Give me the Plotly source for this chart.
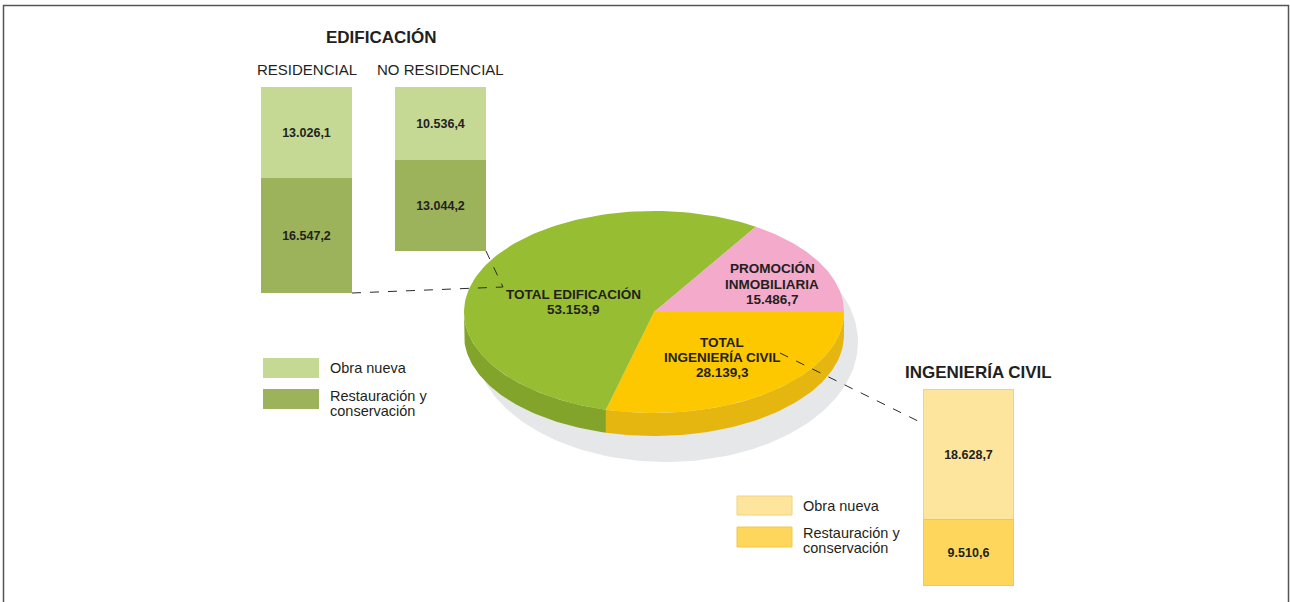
import numpy as np
import plotly.graph_objects as go

# values in the chart
pie_labels = ['TOTAL<br>INGENIERÍA CIVIL', 'TOTAL EDIFICACIÓN', 'PROMOCIÓN<br>INMOBILIARIA']
pie_values = [28139.3, 53153.9, 15486.7]

edif_cats = ['RESIDENCIAL', 'NO RESIDENCIAL']
edif_nueva = [13026.1, 10536.4]
edif_restaur = [16547.2, 13044.2]

civil_nueva = [18628.7]
civil_restaur = [9510.6]

FONT = 'Liberation Sans, Arial, sans-serif'
DARK = '#231f20'


def es(v):
    return f'{v:,.1f}'.replace(',', 'X').replace('.', ',').replace('X', '.')


# pie geometry (pixels)
cx, cy, rx, ry, depth = 654, 312, 190, 101, 23
top_colors = ['#fdc800', '#97bd33', '#f4aacb']
side_colors = ['#e5b60f', '#82a42b', '#d98fb0']

fig = go.Figure()

# shadow
t = np.linspace(0, 2 * np.pi, 200)
fig.add_trace(go.Scatter(x=666 + 192 * np.cos(t), y=342 + 120 * np.sin(t), fill='toself',
                         mode='lines', line=dict(width=0), fillcolor='#e6e7e8',
                         hoverinfo='skip', showlegend=False))

fracs = np.array(pie_values) / sum(pie_values)
bounds = np.concatenate([[0], np.cumsum(fracs)]) * 2 * np.pi

# sides (front half only)
for i in range(len(pie_values)):
    a0, a1 = max(bounds[i], 0), min(bounds[i + 1], np.pi)
    if a1 <= a0:
        continue
    tt = np.linspace(a0, a1, 80)
    xs = np.concatenate([cx + rx * np.cos(tt), (cx + rx * np.cos(tt))[::-1]])
    ys = np.concatenate([cy + ry * np.sin(tt), (cy + depth + ry * np.sin(tt))[::-1]])
    fig.add_trace(go.Scatter(x=xs, y=ys, fill='toself', mode='lines', line=dict(width=0),
                             fillcolor=side_colors[i], hoverinfo='skip', showlegend=False))

# tops
for i in range(len(pie_values)):
    tt = np.linspace(bounds[i], bounds[i + 1], 120)
    xs = np.concatenate([[cx], cx + rx * np.cos(tt), [cx]])
    ys = np.concatenate([[cy], cy + ry * np.sin(tt), [cy]])
    fig.add_trace(go.Scatter(x=xs, y=ys, fill='toself', mode='lines', line=dict(width=0),
                             fillcolor=top_colors[i], name=pie_labels[i].replace('<br>', ' '),
                             hovertemplate=es(pie_values[i]) + '<extra></extra>', showlegend=False))

# bars: same scale for all (px per unit)
k = 206 / 29573.3
bar_x = [306.5, 440.5]
bar_font = dict(family=FONT, size=12.5, color=DARK)
fig.add_trace(go.Bar(x=bar_x, y=edif_nueva, width=91, yaxis='y2', marker_color='#c5d995',
                     marker_line_width=0, text=[f'<b>{es(v)}</b>' for v in edif_nueva],
                     textposition='inside', insidetextanchor='middle', textangle=0,
                     textfont=bar_font, showlegend=False, name='Obra nueva'))
fig.add_trace(go.Bar(x=bar_x, y=edif_restaur, width=91, yaxis='y2', marker_color='#9db35b',
                     marker_line_width=0, text=[f'<b>{es(v)}</b>' for v in edif_restaur],
                     textposition='inside', insidetextanchor='middle', textangle=0,
                     textfont=bar_font, showlegend=False, name='Restauración y conservación'))
fig.add_trace(go.Bar(x=[968.5], y=civil_nueva, width=90, yaxis='y3', marker_color='#fee59d',
                     marker_line=dict(width=1, color='#f5d27a'), text=[f'<b>{es(v)}</b>' for v in civil_nueva],
                     textposition='inside', insidetextanchor='middle', textangle=0,
                     textfont=bar_font, showlegend=False, name='Obra nueva'))
fig.add_trace(go.Bar(x=[968.5], y=civil_restaur, width=90, yaxis='y3', marker_color='#fdd65b',
                     marker_line=dict(width=1, color='#f5c84a'), text=[f'<b>{es(v)}</b>' for v in civil_restaur],
                     textposition='inside', insidetextanchor='middle', textangle=0,
                     textfont=bar_font, showlegend=False, name='Restauración y conservación'))

ann = []


def txt(x, y, s, size, bold=False, anchor='center'):
    ann.append(dict(x=x, y=y, xref='x', yref='y', text=f'<b>{s}</b>' if bold else s,
                    showarrow=False, xanchor=anchor, yanchor='middle',
                    font=dict(family=FONT, size=size, color=DARK)))


txt(381, 37, 'EDIFICACIÓN', 17, True)
for xc, c in zip(bar_x, edif_cats):
    txt(xc, 69, c, 15)
txt(978, 372, 'INGENIERÍA CIVIL', 17, True)

# pie labels
label_pos = [(722, [342, 357]), (573, [294]), (772, [268, 284])]
for (xc, ys), lab, v in zip(label_pos, pie_labels, pie_values):
    lines = lab.split('<br>')
    for yy, ln in zip(ys, lines):
        txt(xc, yy, ln, 13.5, True)
    txt(xc, ys[-1] + 15.5, es(v), 13.5, True)

# legends
shapes = []


def box(x0, x1, y0, y1, fill, line=None):
    shapes.append(dict(type='rect', xref='x', yref='y', x0=x0, x1=x1, y0=y0, y1=y1,
                       fillcolor=fill, line=dict(width=1 if line else 0, color=line or fill),
                       layer='below'))


box(263, 319, 358, 378, '#c5d995')
box(263, 319, 389, 409, '#9db35b')
txt(328, 368, 'Obra nueva', 14.5, anchor='left')
txt(328, 396, 'Restauración y', 14.5, anchor='left')
txt(328, 411, 'conservación', 14.5, anchor='left')

box(737, 792, 496, 515, '#fee59d', '#f5d27a')
box(737, 792, 527, 547, '#fdd65b', '#f5c84a')
txt(801, 506, 'Obra nueva', 14.5, anchor='left')
txt(801, 533, 'Restauración y', 14.5, anchor='left')
txt(801, 548, 'conservación', 14.5, anchor='left')

# connector lines
hub = (503, 287)
for x0, y0, x1, y1 in [(352, 293, *hub), (486, 251, *hub), (780, 353, 922, 423)]:
    shapes.append(dict(type='line', xref='x', yref='y', x0=x0, y0=y0, x1=x1, y1=y1,
                       line=dict(color='#2b2b2b', width=1, dash='dash'), layer='above'))

# frame
shapes.append(dict(type='rect', xref='x', yref='y', x0=3.5, x1=1288.5, y0=5.5, y1=615,
                   line=dict(color='#555555', width=1.5), fillcolor='rgba(0,0,0,0)'))

axis_off = dict(visible=False, showgrid=False, zeroline=False, fixedrange=True)
fig.update_layout(
    width=1290, height=602,
    margin=dict(l=0, r=0, t=0, b=0),
    paper_bgcolor='white', plot_bgcolor='white',
    barmode='stack', bargap=0,
    xaxis=dict(range=[0, 1290], **axis_off),
    yaxis=dict(range=[602, 0], **axis_off),
    yaxis2=dict(range=[(602 - 87) / k, -87 / k], overlaying='y', **axis_off),
    yaxis3=dict(range=[(602 - 390) / k, -390 / k], overlaying='y', **axis_off),
    annotations=ann,
    shapes=shapes,
    showlegend=False,
)

fig.write_html("out.html", config={'displayModeBar': False},
               post_script="document.body.style.margin = '0';")
